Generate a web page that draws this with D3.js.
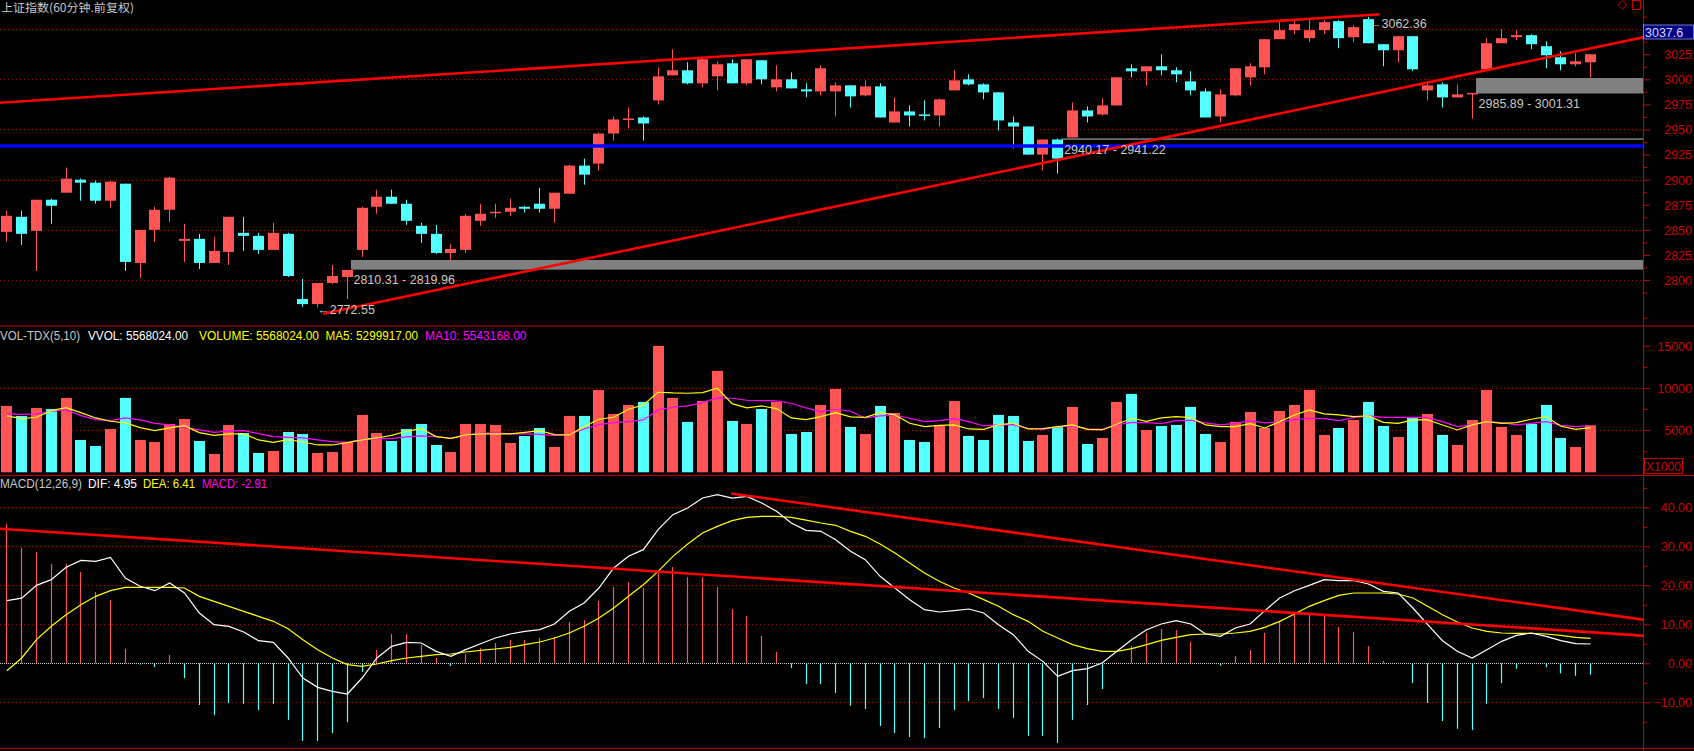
<!DOCTYPE html>
<html><head><meta charset="utf-8">
<script src="https://cdn.jsdelivr.net/npm/d3@7"></script>
<style>html,body{margin:0;padding:0;background:#000;overflow:hidden}svg{display:block}</style>
</head><body>
<svg id="c" width="1694" height="751"></svg>
<script>
// ---------------- DATA ----------------
const opens  = [2848,2863,2849,2880,2887,2900,2897,2879,2896,2817,2850,2870,2839,2841,2817,2828,2847,2844,2830,2846,
  2781,2776,2797,2803,2830,2873,2883,2876,2854,2846,2827,2830,2859,2867,2868,2873,2876,2871,2886,2914,
  2916,2946,2960,2962,2979,3004,3009,2996,3003,3016,2996,3019,2992,3000,2990,2988,2988,2994,2984,2993,
  2957,2968,2965,2964,2989,3000,2995,2987,2957,2953,2925,2940,2942,2969,2965,2974,3011,3008,3013,3009,
  2998,2988,2963,2984,3002,3012,3040,3049,3041,3049,3058,3042,3060,3035,3029,3043,2989,2995,2982,2986,
  3010,3036,3042,3044,3033,3022,3015,3017];
const highs  = [2869,2869,2880,2881,2912,2901,2899,2899,2896,2850,2873,2903,2856,2846,2843,2863,2863,2847,2857,2847,
  2801,2797,2815,2810,2873,2890,2890,2880,2857,2855,2836,2866,2876,2876,2881,2874,2892,2887,2915,2921,
  2947,2963,2972,2963,3012,3030,3017,3021,3018,3020,3020,3019,3014,3007,2996,3014,2997,2994,2999,2996,
  2982,2974,2979,2981,3009,3005,2996,2987,2963,2953,2940,2941,2977,2973,2981,3002,3015,3013,3025,3012,
  3008,2991,2990,3011,3016,3040,3057,3059,3060,3059,3059,3054,3062.36,3035,3043,3043,2998,2997,2995,2986,
  3041,3050,3049,3045,3038,3028,3026,3025];
const lows   = [2838,2835,2809,2856,2887,2879,2876,2872,2809,2802,2838,2858,2818,2811,2817,2815,2829,2826,2830,2803,
  2773,2772.55,2796,2781,2823,2866,2876,2855,2837,2826,2820,2827,2854,2862,2864,2867,2867,2857,2886,2895,
  2909,2939,2951,2939,2975,3004,2995,2992,2989,2996,2994,2995,2988,2991,2982,2984,2963,2972,2983,2962,
  2957,2953,2959,2953,2989,2994,2980,2949,2931,2925,2909,2906,2942,2957,2964,2974,3002,2994,3004,2997,
  2984,2962,2957,2983,2994,3005,3040,3045,3037,3045,3031,3037,3036,3013,3017,3008,2979,2972,2982,2961,
  3010,3036,3039,3030,3011,3009,3013,3002];
const closes = [2864,2846,2880,2874,2901,2897,2879,2898,2818,2850,2870,2902,2841,2817,2829,2863,2844,2830,2847,2804,
  2776,2797,2804,2810,2872,2883,2876,2859,2846,2827,2831,2864,2866,2868,2872,2871,2871,2887,2914,2905,
  2946,2960,2961,2956,3003,3009,2996,3020,3015,2996,3020,3000,3000,2991,2988,3011,2994,2983,2993,2962,
  2968,2964,2964,2980,2999,2995,2987,2959,2953,2925,2940,2921,2969,2963,2974,3002,3008,3013,3009,3005,
  2989,2962,2985,3011,3013,3040,3049,3055,3049,3057,3041,3052,3036,3029,3043,3010,2994,2982,2985,2986.5,
  3036,3041,3044,3035,3024,3015,3018,3025];
// volume, in units of 1000 (axis "X1000")
const volumes = [7863,6677,7626,7507,8812,3831,3119,5135,8812,3831,3594,5728,6321,3712,2170,5610,4661,2289,2526,4780,
  4542,2289,2408,3594,6796,4661,3712,5135,5728,3238,2408,5728,5728,5610,3475,4305,5254,3001,6677,6677,
  9761,6914,7982,8338,14979,8812,5966,8456,12014,6084,5728,7507,8338,4542,4780,7982,9880,5373,4542,7863,
  7033,3831,3594,5610,8456,4305,3831,6796,6677,3712,4424,5373,7745,3356,4068,8338,9286,5017,5491,5610,
  7745,4542,3594,5966,7152,5254,7270,7982,9761,4424,5254,6203,8338,5491,4187,6440,6914,4424,3238,6203,
  9761,5373,4424,5728,7982,4068,3001,5568];
const volMA5 = [6677,6361,6519,7310,7665,7072,6440,6045,5847,5294,4938,5254,5531,4701,4384,4542,4542,3831,3554,3870,
  3594,3238,3238,3514,3831,4068,4384,4859,5175,4226,4029,4424,4542,4542,4542,4740,4938,4463,4424,5412,
  6282,6519,7468,7982,9484,9405,9366,9444,9959,8140,7626,7863,7547,6440,6242,6598,7072,6559,6519,7072,
  6796,5807,5412,5570,5610,5135,5096,5649,5807,5135,5175,5412,5610,5096,5017,5689,6401,6045,6440,6598,
  6480,5610,5412,5412,5768,5254,6005,6796,7389,6914,6796,6598,6677,5926,5807,6203,6203,5610,5017,5610,
  6005,5807,5887,6282,6598,5452,5096,5300];
const volMA10 = [6914,6875,6914,7231,7389,6717,6242,6124,6440,6203,5807,5610,5333,5017,4740,4898,4938,4582,4226,4147,
  4068,3831,3633,3554,3910,3989,3989,4187,4305,4226,4029,4384,4622,4661,4542,4542,4503,4345,4503,5135,
  5649,5887,6005,6203,7389,7705,7863,8258,8812,8773,8536,8495,8456,8180,7626,7152,7468,7231,6440,6677,
  6757,6401,6005,6124,6361,6005,5491,5610,5649,5215,5096,5373,5491,5135,5096,5649,5887,5887,5768,6124,
  6163,5847,5610,5807,6124,5847,5966,6203,6401,6361,6124,6480,6677,6519,6519,6519,6480,6005,5412,5610,
  6005,5887,5610,5807,6005,5570,5412,5543];
const difs = [16.06,16.7,19.99,21.44,24.61,26.40,26.14,27.17,21.87,19.74,18.62,20.59,18.03,12.90,9.91,9.48,8.03,5.80,5.38,1.36,
  -3.77,-6.16,-7.19,-7.87,-3.77,1.36,4.35,5.38,5.21,3.07,1.79,3.50,5.03,6.49,7.51,8.20,8.62,10.08,13.33,15.46,
  19.31,24.44,27.43,29.14,34.26,38.11,39.82,42.38,43.24,42.38,42.81,41.10,38.97,35.97,34.1,33.84,31.70,28.71,26.57,22.30,
  19.31,16.32,13.75,13.15,13.50,13.92,12.90,9.91,7.34,3.07,0.50,-3.34,-1.89,-1.38,0.08,3.07,6.06,8.62,10.08,10.93,
  10.08,7.51,6.92,9.05,10.08,13.50,16.74,18.62,19.99,21.44,21.19,21.27,20.33,18.45,18.03,14.18,9.91,5.80,3.07,1.36,
  3.50,5.63,7.17,7.77,6.92,5.80,5.03,4.95];
const deas = [-1.89,1.36,6.06,9.48,12.47,15.04,17.17,18.62,19.48,19.48,19.48,19.48,19.31,17.17,15.89,14.61,13.33,12.04,10.76,8.88,
  6.06,3.50,1.36,-0.35,-0.78,-0.18,0.67,1.36,1.79,2.21,2.38,2.90,3.32,3.67,4.09,4.78,5.46,6.49,7.77,9.48,
  11.62,14.18,17.17,20.16,23.58,27.43,30.59,33.41,35.12,36.57,37.43,37.68,37.68,37.43,36.7,35.97,35.38,33.84,32.56,30.59,
  28.28,25.72,23.15,21.02,19.31,18.03,16.32,14.61,12.47,10.76,8.20,6.49,4.78,3.75,3.07,3.07,3.75,4.78,5.89,6.66,
  7.34,7.51,7.51,7.77,8.20,9.22,10.76,12.64,14.61,16.06,17.43,18.03,18.03,18.03,17.77,16.74,14.61,12.47,10.59,9.05,
  8.20,7.77,7.68,7.68,7.51,7.17,6.66,6.41];
const macdHist = [35.7,29.6,28.5,25.5,25.5,23.4,18.3,16.2,3.7,-0.3,-0.95,2.1,-3.8,-10.7,-13.3,-10.2,-10.4,-12.0,-10.4,-14.5,
  -19.9,-19.9,-17.9,-15.1,-2.2,3.4,7.5,7.5,4.7,1.4,-0.7,2.4,3.9,5.2,6.0,6.0,6.5,6.7,10.6,11.1,
  16.0,19.6,20.8,19.3,23.2,24.7,22.1,22.1,19.6,13.9,12.1,7.0,2.9,-1.2,-5.3,-5.3,-7.6,-10.9,-11.7,-16.1,
  -17.9,-18.9,-19.2,-16.6,-12.0,-9.7,-8.9,-11.7,-14.0,-18.6,-18.6,-20.4,-14.5,-10.7,-6.6,0.2,4.4,7.8,8.8,8.5,
  5.5,0,-0.6,1.9,3.4,7.8,10.8,12.9,12.4,12.4,9.3,8.0,4.4,0.6,0.1,-5.1,-10.2,-14.8,-16.8,-17.1,
  -10.4,-5.1,-1.4,0,-1.0,-2.6,-3.2,-2.91];

const priceTickLabels = [2800,2825,2850,2875,2900,2925,2950,2975,3000,3025];
const priceGridValues = [2800,2850,2900,2950,3000,3050];
const volTickLabels = [5000,10000,15000];
const macdTickLabels = [-10,0,10,20,30,40];
const macdGridValues = [-10,10,20,30,40];

// header readouts (as shown)
const headerVol = ["VOL-TDX(5,10)", "VVOL: 5568024.00", "VOLUME: 5568024.00", "MA5: 5299917.00", "MA10: 5543168.00"];
const headerMacd = ["MACD(12,26,9)", "DIF: 4.95", "DEA: 6.41", "MACD: -2.91"];
const currentPrice = "3037.6";

// drawn objects (in bar-index / value coordinates)
const priceTrendUpper = [[-0.45,2976.7],[92.8,3064.8]];
const priceTrendLower = [[21.4,2766.3],[110.6,3041.9]];
const macdTrendUpper  = [[48.96,43.56],[110.6,11.18]];
const macdTrendLower  = [[-0.45,34.5],[110.6,7.08]];
const blueLevel = 2933.6;
const zoneFrom = [23.28, 71.3, 99.3];
const zoneLo   = [2810.31, 2940.17, 2985.89];
const zoneHi   = [2819.96, 2941.22, 3001.31];
const highIdx = 92, lowIdx = 21;

// ---------------- CHART ----------------
const N = closes.length;
const W = 1694, H = 751, PR = 1643;
const AX = "#c80000", RED = "#ff5454", CYAN = "#54ffff", GRID = "#a00000";
const FONT = "'Liberation Sans', Arial, sans-serif";

const svg = d3.select("#c");
svg.append("rect").attr("width", W).attr("height", H).attr("fill", "#000");

const x = d3.scaleLinear().domain([0, N - 1]).range([6.4, 6.4 + 14.8 * (N - 1)]);
const yP = d3.scaleLinear().domain([2800, 3000]).range([280, 79.33]);
const yV = d3.scaleLinear().domain([0, 15000]).range([472.3, 345.7]);
const yM = d3.scaleLinear().domain([0, 40]).range([663.3, 507.3]);
const cx = i => Math.round(x(i)) + 0.5;
const px = y => Math.round(y) + 0.5;
const up = i => closes[i] >= opens[i];
const idx = d3.range(N);

const defs = svg.append("defs");
defs.append("clipPath").attr("id", "cTop").append("rect").attr("x", 0).attr("y", 0).attr("width", PR).attr("height", 325);
defs.append("clipPath").attr("id", "cVol").append("rect").attr("x", 0).attr("y", 327).attr("width", PR).attr("height", 148);
defs.append("clipPath").attr("id", "cMac").append("rect").attr("x", 0).attr("y", 477).attr("width", PR).attr("height", 271);

function hgrid(g, vals, scale, color, dash) {
  g.selectAll(null).data(vals).join("line")
    .attr("x1", 0).attr("x2", PR)
    .attr("y1", d => px(scale(d))).attr("y2", d => px(scale(d)))
    .attr("stroke", color).attr("stroke-dasharray", dash);
}

// ---- Top price panel ----
const gTop = svg.append("g").attr("clip-path", "url(#cTop)");
hgrid(gTop, priceGridValues, yP, GRID, "1,3");

gTop.selectAll(null).data(d3.range(zoneLo.length)).join("rect")
  .attr("x", k => x(zoneFrom[k])).attr("width", k => PR - x(zoneFrom[k]))
  .attr("y", k => yP(zoneHi[k]))
  .attr("height", k => Math.max(1.5, yP(zoneLo[k]) - yP(zoneHi[k])))
  .attr("fill", "#808080");

gTop.selectAll(null).data(idx).join("line")
  .attr("x1", cx).attr("x2", cx)
  .attr("y1", i => yP(highs[i])).attr("y2", i => yP(lows[i]))
  .attr("stroke", i => up(i) ? RED : CYAN);
gTop.selectAll(null).data(idx).join("rect")
  .attr("x", i => Math.round(x(i)) - 5).attr("width", 11)
  .attr("y", i => yP(Math.max(opens[i], closes[i])))
  .attr("height", i => Math.max(1.5, yP(Math.min(opens[i], closes[i])) - yP(Math.max(opens[i], closes[i]))))
  .attr("fill", i => up(i) ? RED : CYAN);

gTop.append("line").attr("x1", 0).attr("x2", PR).attr("y1", yP(blueLevel)).attr("y2", yP(blueLevel))
  .attr("stroke", "#0000ff").attr("stroke-width", 3.5);

const lineP = d3.line().x(d => x(d[0])).y(d => yP(d[1]));
[priceTrendUpper, priceTrendLower].forEach(t =>
  gTop.append("path").attr("d", lineP(t)).attr("fill", "none").attr("stroke", "#ff0000").attr("stroke-width", 2.6));

const lblColor = "#c8c8c8";
d3.range(zoneLo.length).forEach(k => {
  svg.append("text").attr("x", x(zoneFrom[k]) + 2.5).attr("y", yP(zoneLo[k]) + 14.3)
    .attr("fill", lblColor).attr("font-family", FONT).attr("font-size", 12.5)
    .text(zoneLo[k].toFixed(2) + " - " + zoneHi[k].toFixed(2));
});
svg.append("text").attr("x", x(highIdx) + 1).attr("y", yP(highs[highIdx]) + 11.5)
  .attr("fill", lblColor).attr("font-family", FONT).attr("font-size", 12.5).text("←" + highs[highIdx].toFixed(2));
svg.append("text").attr("x", x(lowIdx)).attr("y", yP(lows[lowIdx]) + 6)
  .attr("fill", lblColor).attr("font-family", FONT).attr("font-size", 12.5).text("←" + lows[lowIdx].toFixed(2));

// ---- Volume panel ----
const gVol = svg.append("g").attr("clip-path", "url(#cVol)");
hgrid(gVol, [5000, 10000], yV, GRID, "1,3");
gVol.selectAll(null).data(idx).join("rect")
  .attr("x", i => Math.round(x(i)) - 5).attr("width", 11)
  .attr("y", i => yV(volumes[i])).attr("height", i => yV(0) - yV(volumes[i]))
  .attr("fill", i => up(i) ? RED : CYAN);
const lineV = arr => d3.line().x(i => x(i) + 0.5).y(i => yV(arr[i]))(idx);
gVol.append("path").attr("d", lineV(volMA10)).attr("fill", "none").attr("stroke", "#ff00ff").attr("stroke-width", 1.2);
gVol.append("path").attr("d", lineV(volMA5)).attr("fill", "none").attr("stroke", "#ffff00").attr("stroke-width", 1.2);

// ---- MACD panel ----
const gMac = svg.append("g").attr("clip-path", "url(#cMac)");
hgrid(gMac, macdGridValues, yM, GRID, "1,3");
hgrid(gMac, [0], yM, "#d0d0d0", "1,1");
gMac.selectAll(null).data(idx.filter(i => Math.abs(macdHist[i]) > 0.05)).join("line")
  .attr("x1", cx).attr("x2", cx)
  .attr("y1", yM(0)).attr("y2", i => yM(macdHist[i]))
  .attr("stroke", i => macdHist[i] >= 0 ? RED : CYAN).attr("stroke-width", 1.2);
const lineM = arr => d3.line().x(i => x(i) + 0.5).y(i => yM(arr[i]))(idx);
gMac.append("path").attr("d", lineM(deas)).attr("fill", "none").attr("stroke", "#ffff00").attr("stroke-width", 1.2);
gMac.append("path").attr("d", lineM(difs)).attr("fill", "none").attr("stroke", "#ffffff").attr("stroke-width", 1.2);
const lineMT = d3.line().x(d => x(d[0])).y(d => yM(d[1]));
[macdTrendUpper, macdTrendLower].forEach(t =>
  gMac.append("path").attr("d", lineMT(t)).attr("fill", "none").attr("stroke", "#ff0000").attr("stroke-width", 2.6));

// ---- frame ----
[326, 475.5, 748.5].forEach(y => svg.append("line").attr("x1", 0).attr("x2", W).attr("y1", y).attr("y2", y).attr("stroke", AX).attr("stroke-width", 1.2));
svg.append("line").attr("x1", PR + 0.5).attr("x2", PR + 0.5).attr("y1", 0).attr("y2", H).attr("stroke", AX);

// ---- axes ----
function rightAxis(scale, major, minor, fmt) {
  const gMin = svg.append("g").attr("transform", `translate(${PR},0)`)
    .call(d3.axisRight(scale).tickValues(minor).tickSize(4).tickFormat(""));
  gMin.select(".domain").remove();
  gMin.selectAll("line").attr("stroke", AX);
  const g = svg.append("g").attr("transform", `translate(${PR},0)`)
    .call(d3.axisRight(scale).tickValues(major).tickSize(7).tickFormat(fmt));
  g.select(".domain").remove();
  g.selectAll("line").attr("stroke", AX);
  g.selectAll("text").attr("x", 49).attr("text-anchor", "end").attr("fill", AX)
    .attr("font-family", FONT).attr("font-size", 12.5).attr("dy", "0.35em");
}
rightAxis(yP, priceTickLabels, d3.range(2762.5, 3075, 12.5).filter(v => v % 25 !== 0), d3.format("d"));
rightAxis(yV, volTickLabels, [2500, 7500, 12500], d3.format("d"));
rightAxis(yM, macdTickLabels, [-15, -5, 5, 15, 25, 35, 45], d3.format(".2f"));

svg.append("rect").attr("x", PR + 0.5).attr("y", 25).attr("width", 50).attr("height", 14)
  .attr("fill", "#000080").attr("stroke", "#9090ff").attr("stroke-width", 0.8);
svg.append("text").attr("x", PR + 2).attr("y", 37).attr("fill", "#d8d8ff")
  .attr("font-family", FONT).attr("font-size", 12.5).text(currentPrice);
svg.append("rect").attr("x", 1644.5).attr("y", 458.5).attr("width", 38).attr("height", 15)
  .attr("fill", "none").attr("stroke", AX);
svg.append("text").attr("x", 1646).attr("y", 471).attr("fill", AX)
  .attr("font-family", FONT).attr("font-size", 12.5).attr("textLength", 35).attr("lengthAdjust", "spacingAndGlyphs").text("X1000");
svg.append("path").attr("d", "M1622.5,0.5 L1627,4.8 L1622.5,9 L1618,4.8 Z").attr("fill", "none").attr("stroke", AX);
svg.append("rect").attr("x", 1632.5).attr("y", 0.5).attr("width", 8).attr("height", 9).attr("fill", "none").attr("stroke", AX);

// ---- headers ----
function htext(xp, y, str, color, len, fam, fs) {
  svg.append("text").attr("x", xp).attr("y", y).attr("fill", color)
    .attr("font-family", fam || FONT).attr("font-size", fs || 12)
    .attr("textLength", len).attr("lengthAdjust", "spacingAndGlyphs").text(str);
}
htext(1, 12, "上证指数(60分钟.前复权)", "#c8c8c8", 133, "'Noto Sans CJK SC', sans-serif", 11.5);
htext(0, 340, headerVol[0], "#c8c8c8", 80);
htext(88, 340, headerVol[1], "#ffffff", 100);
htext(199, 340, headerVol[2], "#ffff00", 120);
htext(325.5, 340, headerVol[3], "#ffff00", 92.5);
htext(425, 340, headerVol[4], "#ff00ff", 101.5);
htext(0, 488, headerMacd[0], "#c8c8c8", 82);
htext(88, 488, headerMacd[1], "#ffffff", 49);
htext(143, 488, headerMacd[2], "#ffff00", 52);
htext(202, 488, headerMacd[3], "#ff00ff", 65);
</script>
</body></html>
